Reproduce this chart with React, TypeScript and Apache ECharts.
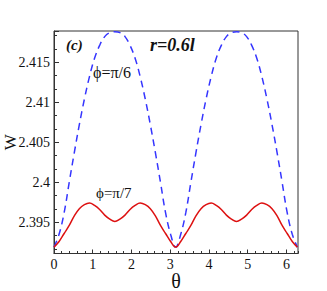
import React, { useEffect, useRef } from "react";
import * as echarts from "echarts";

const theta = [
  0, 0.131, 0.262, 0.393, 0.524, 0.654, 0.785, 0.916, 1.047, 1.178, 1.309, 1.44, 1.571,
  1.702, 1.833, 1.963, 2.094, 2.225, 2.356, 2.487, 2.618, 2.749, 2.88, 3.011, 3.142,
  3.272, 3.403, 3.534, 3.665, 3.796, 3.927, 4.058, 4.189, 4.32, 4.451, 4.581, 4.712,
  4.843, 4.974, 5.105, 5.236, 5.367, 5.498, 5.629, 5.76, 5.89, 6.021, 6.152, 6.283,
];

// phi = pi/6 (blue dashed)
const wPi6 = [
  2.3919, 2.3935, 2.3962, 2.4, 2.4037, 2.4072, 2.4104, 2.4132, 2.4155, 2.4171, 2.4182, 2.4187, 2.4188,
  2.4187, 2.4182, 2.4171, 2.4155, 2.4132, 2.4104, 2.4072, 2.4037, 2.4, 2.3962, 2.3935, 2.3919,
  2.3935, 2.3962, 2.4, 2.4037, 2.4072, 2.4104, 2.4132, 2.4155, 2.4171, 2.4182, 2.4187, 2.4188,
  2.4187, 2.4182, 2.4171, 2.4155, 2.4132, 2.4104, 2.4072, 2.4037, 2.4, 2.3962, 2.3935, 2.3919,
];

// phi = pi/7 (red solid)
const wPi7 = [
  2.3919, 2.3926, 2.3936, 2.3946, 2.3958, 2.3967, 2.3972, 2.3974, 2.3971, 2.3966, 2.3959, 2.3954, 2.3951,
  2.3954, 2.3959, 2.3966, 2.3971, 2.3974, 2.3972, 2.3967, 2.3958, 2.3946, 2.3936, 2.3926, 2.3919,
  2.3926, 2.3936, 2.3946, 2.3958, 2.3967, 2.3972, 2.3974, 2.3971, 2.3966, 2.3959, 2.3954, 2.3951,
  2.3954, 2.3959, 2.3966, 2.3971, 2.3974, 2.3972, 2.3967, 2.3958, 2.3946, 2.3936, 2.3926, 2.3919,
];

const xRange = [0, 6.3];
const yRange = [2.3911, 2.4189];
const panelLabel = "(c)";
const titleLabel = "r=0.6l";
const labelPi6 = "ϕ=π/6";
const labelPi7 = "ϕ=π/7";

const FONT = "Liberation Serif";

export default function App() {
  const ref = useRef<HTMLDivElement>(null);
  useEffect(() => {
    if (!ref.current) return;
    const chart = echarts.init(ref.current, null, { renderer: "svg" });
    const pairs = (ys: number[]) => theta.map((t, i) => [t, ys[i]]);
    chart.setOption({
      animation: false,
      backgroundColor: "#fff",
      textStyle: { fontFamily: FONT },
      grid: {
        left: 54,
        top: 31,
        right: 29,
        bottom: 37.5,
        show: true,
        borderColor: "#333",
        borderWidth: 1,
        containLabel: false,
        outerBoundsMode: "none",
      },
      xAxis: [
        {
          type: "value",
          min: xRange[0],
          max: xRange[1],
          interval: 1,
          position: "bottom",
          name: "θ",
          nameLocation: "middle",
          nameGap: 17,
          nameMoveOverlap: false,
          nameTextStyle: { fontFamily: FONT, fontSize: 20, color: "#111" },
          axisLine: { show: true, lineStyle: { color: "#333", width: 1 } },
          axisTick: { show: true, inside: true, length: 4, lineStyle: { color: "#333" } },
          axisLabel: {
            fontFamily: FONT,
            fontSize: 14,
            color: "#111",
            margin: 4,
            showMaxLabel: false,
          },
          splitLine: { show: false },
        },
        {
          type: "value",
          min: xRange[0],
          max: xRange[1],
          interval: 0.2,
          position: "bottom",
          axisLine: { show: false },
          axisTick: { show: true, inside: true, length: 2.5, lineStyle: { color: "#333" } },
          axisLabel: { show: false },
          splitLine: { show: false },
        },
      ],
      yAxis: {
        type: "value",
        min: yRange[0],
        max: yRange[1],
        splitNumber: 5,
        name: "W",
        nameLocation: "middle",
        nameRotate: 90,
        nameGap: 35,
        nameMoveOverlap: false,
        nameTextStyle: { fontFamily: FONT, fontSize: 17, color: "#111" },
        axisLine: { show: true, lineStyle: { color: "#333", width: 1 } },
        axisTick: { show: true, inside: true, length: 5, lineStyle: { color: "#333" } },
        minorTick: { show: true, splitNumber: 3, length: 3, lineStyle: { color: "#333" } },
        axisLabel: {
          fontFamily: FONT,
          fontSize: 14,
          color: "#111",
          margin: 4,
          showMinLabel: false,
          showMaxLabel: false,
        },
        splitLine: { show: false },
      },
      series: [
        {
          type: "line",
          xAxisIndex: 0,
          yAxisIndex: 0,
          data: pairs(wPi6),
          smooth: 0.4,
          showSymbol: false,
          lineStyle: { color: "#3535ff", width: 1.5, type: [7, 5] },
        },
        {
          type: "line",
          xAxisIndex: 0,
          yAxisIndex: 0,
          data: pairs(wPi7),
          smooth: 0.4,
          showSymbol: false,
          lineStyle: { color: "#dd1111", width: 1.5 },
        },
      ],
      graphic: [
        {
          type: "text",
          x: 66,
          y: 45,
          style: {
            text: panelLabel,
            fontFamily: FONT,
            fontSize: 15,
            fontStyle: "italic",
            fontWeight: "bold",
            fill: "#111",
            verticalAlign: "middle",
          },
        },
        {
          type: "text",
          x: 150,
          y: 45,
          style: {
            text: titleLabel,
            fontFamily: FONT,
            fontSize: 18,
            fontStyle: "italic",
            fontWeight: "bold",
            fill: "#111",
            verticalAlign: "middle",
          },
        },
        {
          type: "text",
          x: 93,
          y: 72,
          style: {
            text: labelPi6,
            fontFamily: FONT,
            fontSize: 16,
            fill: "#111",
            verticalAlign: "middle",
          },
        },
        {
          type: "text",
          x: 96,
          y: 193,
          style: {
            text: labelPi7,
            fontFamily: FONT,
            fontSize: 15,
            fill: "#111",
            verticalAlign: "middle",
          },
        },
      ],
    });
    return () => chart.dispose();
  }, []);
  return (
    <div
      ref={ref}
      style={{ position: "absolute", left: 0, top: 0, width: 327, height: 291 }}
    />
  );
}
